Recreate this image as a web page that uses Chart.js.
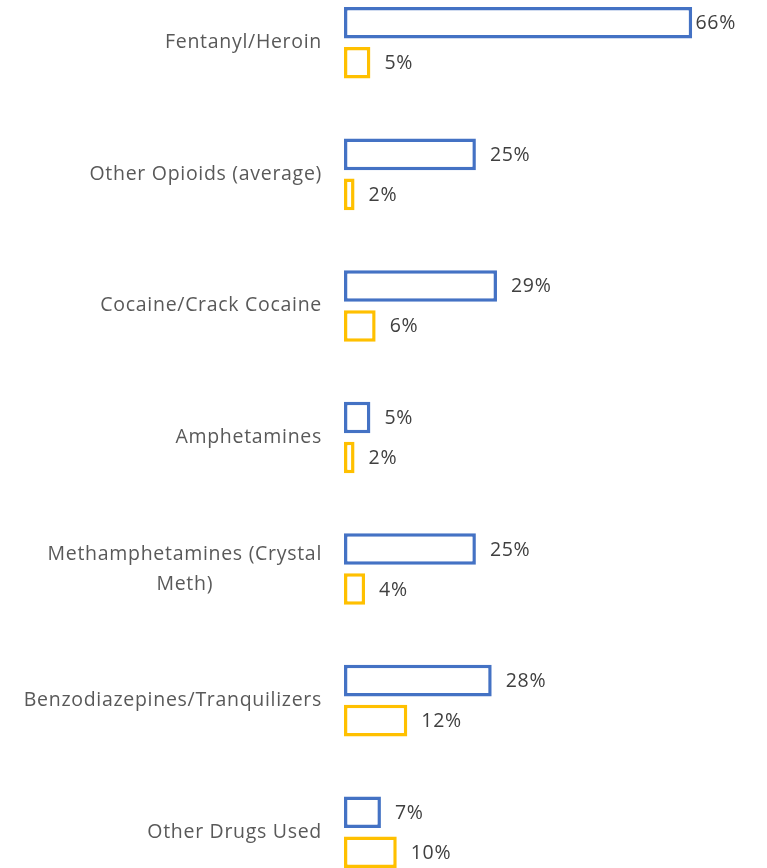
<!DOCTYPE html>
<html>
<head>
<meta charset="utf-8">
<script src="https://cdn.jsdelivr.net/npm/chart.js@4.4.1/dist/chart.umd.min.js"></script>
<style>
  html, body { margin: 0; padding: 0; background: #fff; overflow: hidden; width: 767px; height: 868px; }
  #wrap { position: absolute; left: 0; top: -23px; width: 767px; height: 921px; }
</style>
</head>
<body>
<div id="wrap"><canvas id="c"></canvas></div>
<script>
const categories = [
  "Fentanyl/Heroin",
  "Other Opioids (average)",
  "Cocaine/Crack Cocaine",
  "Amphetamines",
  ["Methamphetamines (Crystal", "Meth)"],
  "Benzodiazepines/Tranquilizers",
  "Other Drugs Used"
];
const seriesBlue = [66, 25, 29, 5, 25, 28, 7];
const seriesGold = [5, 2, 6, 2, 4, 12, 10];

const FONT = "'Open Sans', sans-serif";
const FONT_SIZE = 19.5;
const LETTER_SPACING = "0.7px";

const dataLabels = {
  id: 'dataLabels',
  afterDatasetsDraw(chart) {
    const ctx = chart.ctx;
    ctx.save();
    ctx.font = FONT_SIZE + "px " + FONT;
    if ('letterSpacing' in ctx) ctx.letterSpacing = LETTER_SPACING;
    ctx.fillStyle = "#404040";
    ctx.textBaseline = "middle";
    ctx.textAlign = "left";
    chart.data.datasets.forEach((ds, di) => {
      const meta = chart.getDatasetMeta(di);
      meta.data.forEach((bar, i) => {
        const txt = ds.data[i] + "%";
        const w = ctx.measureText(txt).width;
        let x = bar.x + 14;
        if (x + w > 736) x = 736 - w;
        ctx.fillText(txt, x, bar.y + 1);
      });
    });
    ctx.restore();
  }
};

const catLabels = {
  id: 'catLabels',
  afterDraw(chart) {
    const ctx = chart.ctx;
    const ys = chart.scales.y;
    const right = chart.chartArea.left - 22;
    ctx.save();
    ctx.font = FONT_SIZE + "px " + FONT;
    if ('letterSpacing' in ctx) ctx.letterSpacing = LETTER_SPACING;
    ctx.fillStyle = "#595959";
    ctx.textBaseline = "middle";
    categories.forEach((lab, i) => {
      const lines = Array.isArray(lab) ? lab : [lab];
      const yc = ys.getPixelForValue(i);
      const lh = 30;
      const maxW = Math.max(...lines.map(l => ctx.measureText(l).width));
      lines.forEach((l, k) => {
        const y = yc + (k - (lines.length - 1) / 2) * lh;
        if (lines.length > 1) {
          ctx.textAlign = "center";
          ctx.fillText(l, right - maxW / 2, y);
        } else {
          ctx.textAlign = "right";
          ctx.fillText(l, right, y);
        }
      });
    });
    ctx.restore();
  }
};

new Chart(document.getElementById('c'), {
  type: 'bar',
  data: {
    labels: categories,
    datasets: [
      { label: "Blue", data: seriesBlue, backgroundColor: "#ffffff", borderColor: "#4472C4", borderWidth: 3.5, borderSkipped: false },
      { label: "Gold", data: seriesGold, backgroundColor: "#ffffff", borderColor: "#FFC000", borderWidth: 3.5, borderSkipped: false }
    ]
  },
  options: {
    indexAxis: 'y',
    responsive: true,
    maintainAspectRatio: false,
    animation: false,
    events: [],
    layout: { padding: { left: 0, right: 1, top: 0, bottom: 0 } },
    datasets: { bar: { categoryPercentage: 0.608, barPercentage: 0.79 } },
    plugins: { legend: { display: false }, tooltip: { enabled: false } },
    scales: {
      x: { display: false, min: 0, max: 80 },
      y: {
        grid: { display: false, drawTicks: false },
        border: { display: false },
        ticks: { display: false },
        afterFit(s) { s.width = 344; }
      }
    }
  },
  plugins: [dataLabels, catLabels]
});
</script>
</body>
</html>
